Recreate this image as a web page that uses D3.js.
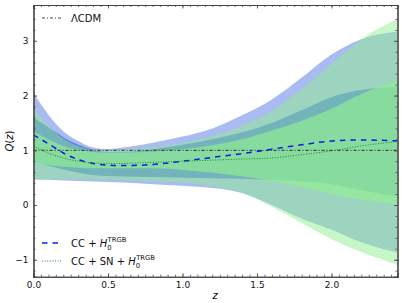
<!DOCTYPE html>
<meta charset="utf-8">
<title>Q(z) reconstruction</title>
<style>
    body { margin: 0; background: #fff; }
    text { font-family: "DejaVu Sans", sans-serif; }
</style>
<script src="https://d3js.org/d3.v7.js"></script>
<svg id="chart" width="402" height="303"></svg>
<script>
    // redshift grid
    const zs = [0, 0.1, 0.2, 0.3, 0.4, 0.5, 0.6, 0.8, 1.0, 1.2, 1.4, 1.6, 1.8, 2.0, 2.2, 2.44];

    // CC + H0 TRGB
    const ccMean = [1.28, 1.12, 0.95, 0.83, 0.76, 0.73, 0.72, 0.74, 0.80, 0.87, 0.94, 1.02, 1.10, 1.17, 1.19, 1.17];
    const cc1Up  = [1.60, 1.42, 1.24, 1.10, 1.01, 0.97, 0.97, 1.02, 1.10, 1.20, 1.33, 1.50, 1.73, 1.97, 2.10, 2.16];
    const cc1Lo  = [0.80, 0.72, 0.65, 0.59, 0.55, 0.53, 0.52, 0.51, 0.50, 0.49, 0.48, 0.46, 0.43, 0.38, 0.27, 0.16];
    const cc2Up  = [2.05, 1.65, 1.35, 1.17, 1.05, 1.02, 1.05, 1.14, 1.25, 1.40, 1.64, 1.93, 2.33, 2.75, 3.03, 3.17];
    const cc2Lo  = [0.46, 0.46, 0.45, 0.44, 0.43, 0.42, 0.41, 0.38, 0.35, 0.31, 0.22, 0.00, -0.25, -0.45, -0.68, -0.87];

    // CC + SN + H0 TRGB
    const snMean = [1.08, 0.95, 0.86, 0.80, 0.77, 0.76, 0.76, 0.78, 0.80, 0.82, 0.84, 0.86, 0.92, 0.99, 1.08, 1.16];
    const sn1Up  = [1.35, 1.20, 1.08, 1.01, 0.97, 0.96, 0.96, 0.98, 1.02, 1.09, 1.20, 1.36, 1.54, 1.76, 2.03, 2.28];
    const sn1Lo  = [0.78, 0.73, 0.70, 0.68, 0.67, 0.67, 0.67, 0.67, 0.64, 0.59, 0.52, 0.44, 0.33, 0.20, 0.10, 0.01];
    const sn2Up  = [1.76, 1.45, 1.22, 1.08, 1.01, 0.99, 1.01, 1.06, 1.14, 1.26, 1.45, 1.72, 2.12, 2.58, 3.03, 3.40];
    const sn2Lo  = [0.47, 0.47, 0.47, 0.47, 0.47, 0.46, 0.45, 0.43, 0.41, 0.34, 0.22, -0.03, -0.33, -0.62, -0.86, -1.09];

    const xTicks = [0, 0.5, 1.0, 1.5, 2.0];
    const yTicks = [-1, 0, 1, 2, 3];

    const svg = d3.select("#chart");
    const margin = {left: 33.5, right: 4.5, top: 5, bottom: 26.3};
    const W = 402, H = 303;

    const x = d3.scaleLinear().domain([0, 2.443]).range([margin.left, W - margin.right]);
    const y = d3.scaleLinear().domain([-1.31, 3.655]).range([H - margin.bottom, margin.top]);

    svg.append("clipPath").attr("id", "clip")
        .append("rect")
        .attr("x", x.range()[0]).attr("y", y.range()[1])
        .attr("width", x.range()[1] - x.range()[0])
        .attr("height", y.range()[0] - y.range()[1]);

    const plot = svg.append("g").attr("clip-path", "url(#clip)");

    function band(lo, hi) {
        return d3.area()
            .x((d, i) => x(zs[i]))
            .y0((d, i) => y(lo[i]))
            .y1((d, i) => y(hi[i]))
            .curve(d3.curveMonotoneX)(zs);
    }
    function line(vals) {
        return d3.line()
            .x((d, i) => x(zs[i]))
            .y((d, i) => y(vals[i]))
            .curve(d3.curveMonotoneX)(zs);
    }

    // bands: 2 sigma then 1 sigma for each set
    plot.append("path").attr("d", band(cc2Lo, cc2Up)).attr("fill", "royalblue").attr("fill-opacity", 0.45);
    plot.append("path").attr("d", band(cc1Lo, cc1Up)).attr("fill", "royalblue").attr("fill-opacity", 0.8);
    plot.append("path").attr("d", band(sn2Lo, sn2Up)).attr("fill", "lightgreen").attr("fill-opacity", 0.5);
    plot.append("path").attr("d", band(sn1Lo, sn1Up)).attr("fill", "lightgreen").attr("fill-opacity", 0.67);

    // LCDM
    plot.append("line")
        .attr("x1", x.range()[0]).attr("x2", x.range()[1])
        .attr("y1", y(1)).attr("y2", y(1))
        .attr("stroke", "#444").attr("stroke-width", 1.2)
        .attr("stroke-dasharray", "3,2,1,2");

    plot.append("path").attr("d", line(ccMean))
        .attr("fill", "none").attr("stroke", "#0a1ee8").attr("stroke-width", 1.5)
        .attr("stroke-dasharray", "5.5,5");
    plot.append("path").attr("d", line(snMean))
        .attr("fill", "none").attr("stroke", "#1f8a1f").attr("stroke-width", 1)
        .attr("stroke-dasharray", "1,1.6");

    // axes, ticks inside on all sides
    const minorX = d3.range(0, 2.45, 0.05);
    const minorY = d3.range(-1.2, 3.65, 0.2);
    const frame = "#444";

    svg.append("g").attr("transform", `translate(0,${y.range()[0]})`)
        .call(d3.axisBottom(x).tickValues(xTicks).tickSize(-3.5).tickPadding(5).tickFormat(d3.format(".1f")));
    svg.append("g").attr("transform", `translate(0,${y.range()[0]})`)
        .call(d3.axisBottom(x).tickValues(minorX).tickSize(-2).tickFormat(""));
    svg.append("g").attr("transform", `translate(0,${y.range()[1]})`)
        .call(d3.axisTop(x).tickValues(xTicks).tickSize(-3.5).tickFormat(""));
    svg.append("g").attr("transform", `translate(0,${y.range()[1]})`)
        .call(d3.axisTop(x).tickValues(minorX).tickSize(-2).tickFormat(""));
    svg.append("g").attr("transform", `translate(${x.range()[0]},0)`)
        .call(d3.axisLeft(y).tickValues(yTicks).tickSize(-3.5).tickPadding(5).tickFormat(d => d < 0 ? "\u2212" + Math.abs(d) : d));
    svg.append("g").attr("transform", `translate(${x.range()[0]},0)`)
        .call(d3.axisLeft(y).tickValues(minorY).tickSize(-2).tickFormat(""));
    svg.append("g").attr("transform", `translate(${x.range()[1]},0)`)
        .call(d3.axisRight(y).tickValues(yTicks).tickSize(-3.5).tickFormat(""));
    svg.append("g").attr("transform", `translate(${x.range()[1]},0)`)
        .call(d3.axisRight(y).tickValues(minorY).tickSize(-2).tickFormat(""));

    svg.selectAll(".domain").attr("stroke", frame).attr("stroke-width", 1.1);
    svg.selectAll(".tick line").attr("stroke", frame).attr("stroke-width", 0.8);
    svg.selectAll(".tick text").attr("font-size", 9).attr("fill", "#111")
        .attr("font-family", "DejaVu Sans, sans-serif");

    // axis labels
    svg.append("text").attr("x", 215).attr("y", 299).attr("text-anchor", "middle")
        .attr("font-size", 10).attr("font-style", "italic").text("z");
    svg.append("text").attr("transform", "translate(13,141) rotate(-90)").attr("text-anchor", "middle")
        .attr("font-size", 10)
        .html('<tspan font-style="italic">Q</tspan>(<tspan font-style="italic">z</tspan>)');

    // legends
    const lg = svg.append("g").attr("font-size", 10).attr("fill", "#111");
    lg.append("line").attr("x1", 42).attr("x2", 62).attr("y1", 18).attr("y2", 18)
        .attr("stroke", "#444").attr("stroke-width", 1.2).attr("stroke-dasharray", "3,2,1,2");
    lg.append("text").attr("x", 71).attr("y", 21.5).text("\u039bCDM");

    lg.append("line").attr("x1", 42).attr("x2", 62).attr("y1", 243).attr("y2", 243)
        .attr("stroke", "#0a1ee8").attr("stroke-width", 1.5).attr("stroke-dasharray", "5.5,5");
    lg.append("text").attr("x", 71).attr("y", 246.5)
        .html('CC + <tspan font-style="italic">H</tspan><tspan font-size="6.8" dy="3">0</tspan><tspan font-size="6.8" dx="-4" dy="-7.5">TRGB</tspan>');

    lg.append("line").attr("x1", 42).attr("x2", 62).attr("y1", 261).attr("y2", 261)
        .attr("stroke", "#1f8a1f").attr("stroke-width", 1).attr("stroke-dasharray", "1,1.6");
    lg.append("text").attr("x", 71).attr("y", 264.5)
        .html('CC + SN + <tspan font-style="italic">H</tspan><tspan font-size="6.8" dy="3">0</tspan><tspan font-size="6.8" dx="-4" dy="-7.5">TRGB</tspan>');
</script>
